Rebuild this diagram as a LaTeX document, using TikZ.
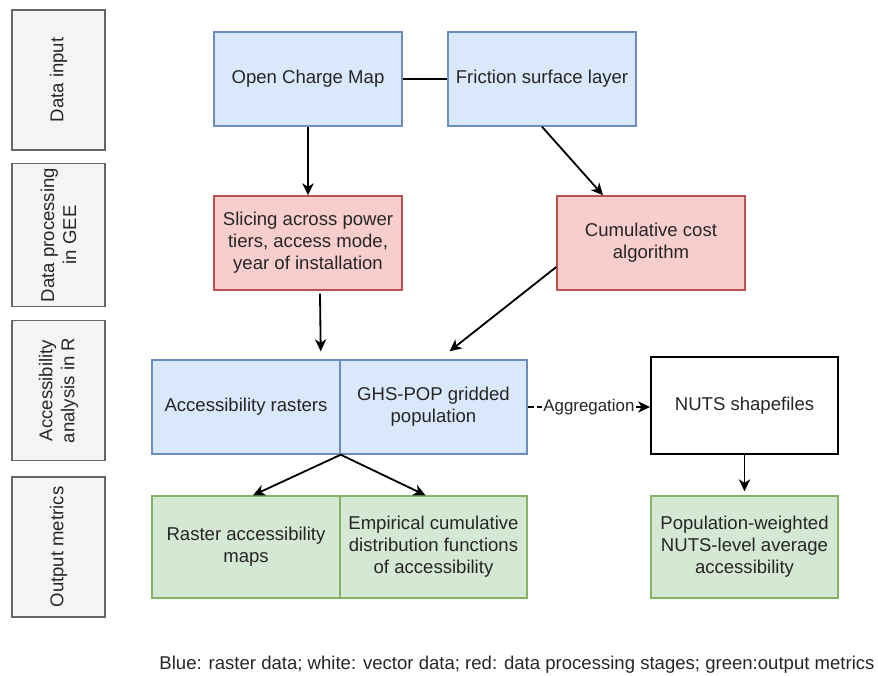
\documentclass[tikz,border=0pt]{standalone}
\usepackage{fontspec}
\setmainfont{Liberation Sans}
\usepackage{xcolor}
\usepackage{tikz}
\usetikzlibrary{arrows.meta}
\usetikzlibrary{calc}
\usetikzlibrary{positioning}

\definecolor{rasterfill}{HTML}{DAE8FC}
\definecolor{rasterline}{HTML}{6C8EBF}
\definecolor{procfill}{HTML}{F8CECC}
\definecolor{procline}{HTML}{B85450}
\definecolor{metricfill}{HTML}{D5E8D4}
\definecolor{metricline}{HTML}{82B366}
\definecolor{stagefill}{HTML}{F5F5F5}
\definecolor{stageline}{HTML}{666666}
\definecolor{textgrey}{HTML}{262626}

\begin{document}
\begin{tikzpicture}[x=0.025cm,y=-0.025cm,>={Stealth[length=8.5pt,width=8pt,inset=2.5pt]},line width=1pt,
txt/.style={font=\fontsize{13.2}{15.6}\selectfont,text=textgrey,align=center},
box/.style={txt,rectangle,draw,minimum width=4.7cm,minimum height=2.35cm,inner sep=2pt},
raster/.style={box,fill=rasterfill,draw=rasterline},
proc/.style={box,fill=procfill,draw=procline},
metric/.style={box,fill=metricfill,draw=metricline,minimum height=2.55cm},
vector/.style={box,fill=white,draw=black,line width=1.3pt},
stagebox/.style={txt,rectangle,rotate=90,fill=stagefill,draw=stageline,
minimum width=3.5cm,minimum height=2.325cm},
link/.style={line width=1.3pt,black}]
\useasboundingbox (0,0) rectangle (878,675);

% stages on the left
\node (StageInput) [stagebox] at (58.5,80) {Data input};
\node (StageGEE) [stagebox] at (58.5,235) {Data processing\\in GEE};
\node (StageR) [stagebox] at (58.5,390.5) {Accessibility\\analysis in R};
\node (StageOut) [stagebox] at (58.5,547) {Output metrics};

% data input
\node (OCM) [raster] at (308,79) {Open Charge Map};
\node (Friction) [raster] at (542,79) {Friction surface layer};

% processing in GEE
\node (Slicing) [proc] at (308,243) {Slicing across power\\tiers, access mode,\\year of installation};
\node (CumCost) [proc] at (651,243) {Cumulative cost\\algorithm};

% analysis in R
\node (AccRaster) [raster] at (246,407) {Accessibility rasters};
\node (GHSPOP) [raster,minimum width=4.675cm] at (433.5,407) {GHS-POP gridded\\population};
\node (NUTS) [vector,minimum width=4.675cm,minimum height=2.425cm] at (744.5,405.5) {NUTS shapefiles};

% output metrics
\node (RasterMaps) [metric] at (246,547) {Raster accessibility\\maps};
\node (ECDF) [metric,minimum width=4.675cm] at (433.5,547) {Empirical cumulative\\distribution functions\\of accessibility};
\node (PopWeighted) [metric,minimum width=4.675cm] at (744.5,547) {Population-weighted\\NUTS-level average\\accessibility};

\node (Legend) [txt] at (517,665) {Blue: raster data; white: vector data; red: data processing stages; green:output metrics};

\draw[link,-] (OCM) -- (Friction);
\draw[link,->] (OCM) -- (Slicing);
\draw[link,->] ($(Friction.south)$) -- ($(CumCost.north)+(-48,0)$);
\draw[link,->] ($(Slicing.south)+(12,3)$) -- ($(AccRaster.north east)+(-20,-8)$);
\draw[link,->] ($(CumCost.west)+(0,24)$) -- ($(GHSPOP.north)+(16,-8)$);
\draw[link,->,dash pattern=on 4.3pt off 2.1pt] (GHSPOP.east) -- node[fill=white,inner sep=1pt,txt,font=\fontsize{12}{14}\selectfont] {Aggregation} (NUTS.west |- GHSPOP.east);
\draw[link,->] (NUTS) -- ($(PopWeighted.north)+(0,-4)$);
\draw[link,->] (AccRaster.south east) -- ($(RasterMaps.north)+(7,0)$);
\draw[link,->] (AccRaster.south east) -- ($(ECDF.north)+(-8,0)$);
\end{tikzpicture}
\end{document}
